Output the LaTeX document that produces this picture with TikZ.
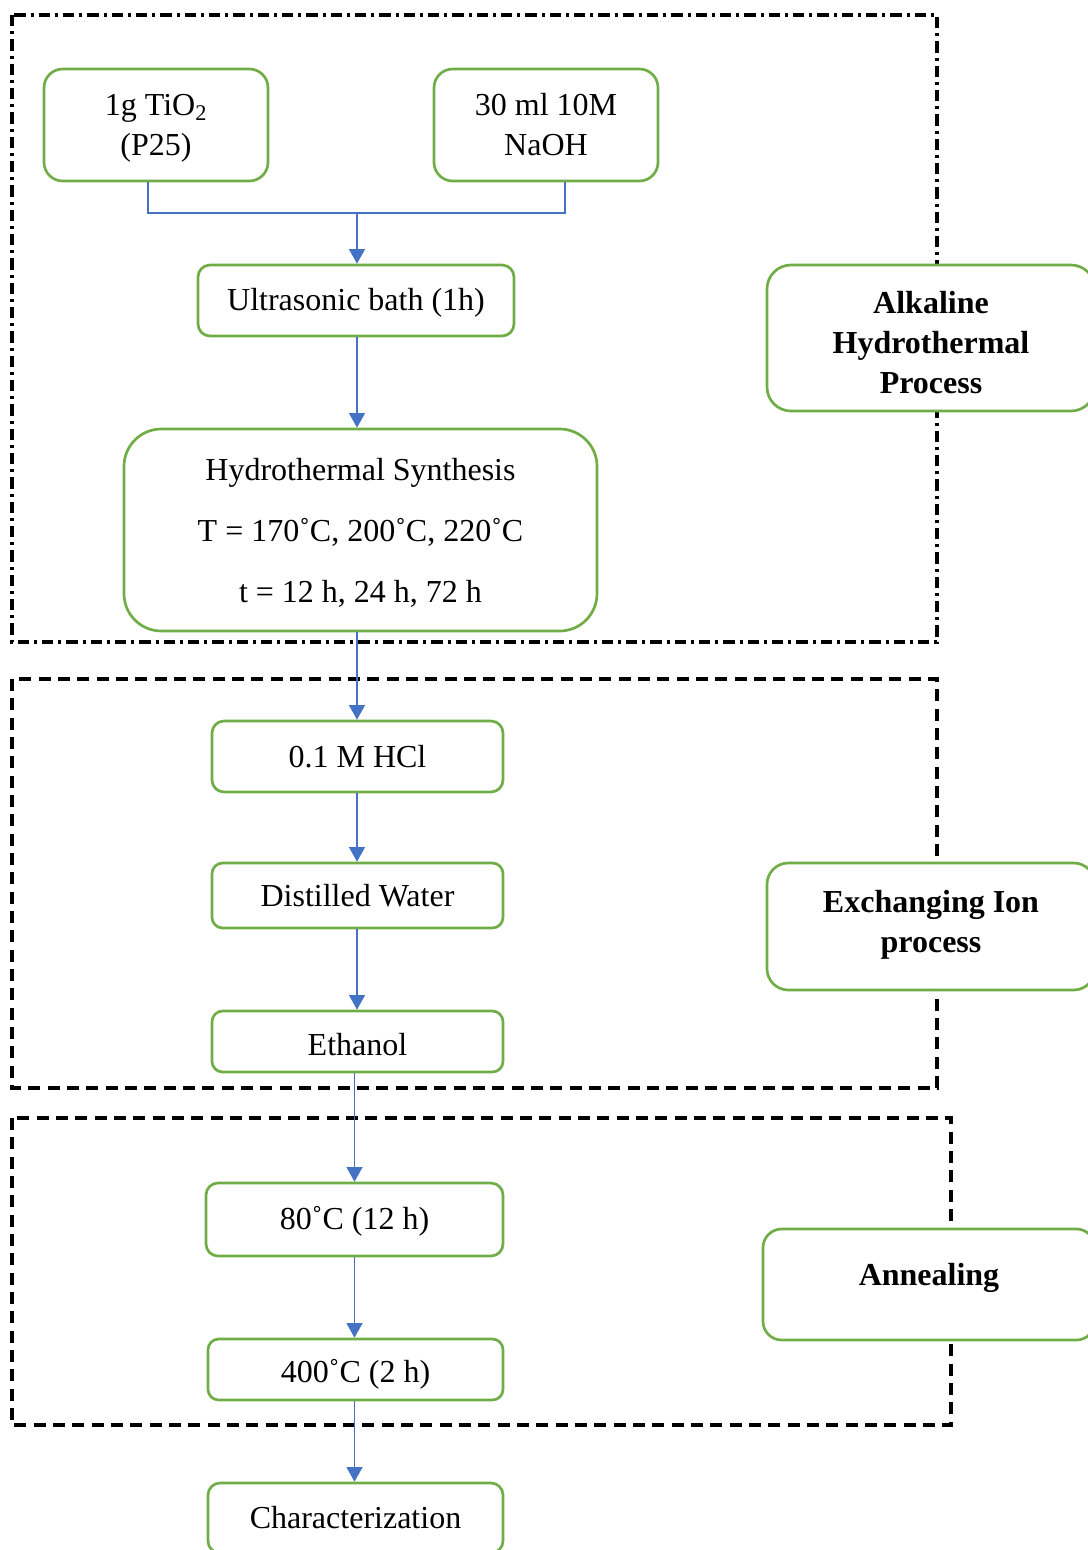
\documentclass[tikz,border=0pt]{standalone}
\usepackage{fontspec}
\setmainfont{Liberation Serif}
\usetikzlibrary{arrows.meta}
\definecolor{gr}{HTML}{70AD47}
\definecolor{bl}{HTML}{4472C4}
\newcommand\tx[2]{\raisebox{#1}[\height][\depth]{\begin{tabular}{@{}c@{}}#2\end{tabular}}}
\begin{document}
\begin{tikzpicture}[x=0.75pt,y=-0.75pt,
  box/.style={draw=gr, line width=2pt, fill=white, align=center, inner sep=0pt, font=\fontsize{24}{30}\selectfont},
  lab/.style={box, font=\fontsize{24}{30}\selectfont\bfseries},
  conn/.style={draw=bl, line width=1.1pt},
  arr/.style={conn, -{Triangle[width=12pt,length=11pt]}},
  grpd/.style={line width=2.3pt, dash pattern=on 9pt off 5.5pt},
  grpdd/.style={line width=2.3pt, dash pattern=on 8.5pt off 3.75pt on 2.25pt off 3.75pt}]
\useasboundingbox (0,0) rectangle (1088,1550);
\clip (0,0) rectangle (1088,1550);
\fill[white] (0,0) rectangle (1088,1550);

% group frames
\draw[grpdd] (12,15) rectangle (937,642);
\draw[grpd] (12,679) rectangle (937,1088);
\draw[grpd] (12,1118) rectangle (951,1425);

% process boxes
\node[box, minimum width=168pt, minimum height=84pt, rounded corners=14pt] (tio) at (156,125) {\tx{-2pt}{1g TiO\textsubscript{2}\\(P25)}};
\node[box, minimum width=168pt, minimum height=84pt, rounded corners=14pt] (naoh) at (546,125) {\tx{-2.2pt}{30 ml 10M\\NaOH}};
\node[box, minimum width=237pt, minimum height=53.25pt, rounded corners=9pt] (us) at (356,300.5) {\tx{-1.4pt}{Ultrasonic bath (1h)}};
\node[box, minimum width=354.75pt, minimum height=151.5pt, rounded corners=28pt] (hs) at (360.5,530) {\tx{-2.7pt}{Hydrothermal Synthesis\\[15.75pt]T = 170˚C, 200˚C, 220˚C\\[15.75pt]t = 12 h, 24 h, 72 h}};
\node[box, minimum width=218.25pt, minimum height=53.25pt, rounded corners=9pt] (hcl) at (357.5,756.5) {\tx{-2.2pt}{0.1 M HCl}};
\node[box, minimum width=218.25pt, minimum height=48.75pt, rounded corners=8pt] (dw) at (357.5,895.5) {\tx{-2.2pt}{Distilled Water}};
\node[box, minimum width=218.25pt, minimum height=45.75pt, rounded corners=8pt] (eth) at (357.5,1041.5) {\tx{-4.4pt}{Ethanol}};
\node[box, minimum width=222.75pt, minimum height=54.75pt, rounded corners=9pt] (c80) at (354.5,1219.5) {\tx{-1.4pt}{80˚C (12 h)}};
\node[box, minimum width=221.25pt, minimum height=45.75pt, rounded corners=8pt] (c400) at (355.5,1369.5) {\tx{-3.6pt}{400˚C (2 h)}};
\node[box, minimum width=221.25pt, minimum height=52.5pt, rounded corners=9pt] (chr) at (355.5,1518) {\tx{-2.2pt}{Characterization}};

% stage labels
\node[lab, minimum width=246pt, minimum height=109.5pt, rounded corners=18pt] (alk) at (931,338) {\tx{-5.8pt}{Alkaline\\Hydrothermal\\Process}};
\node[lab, minimum width=246pt, minimum height=95.25pt, rounded corners=16pt] (exc) at (931,926.5) {\tx{1.8pt}{Exchanging Ion\\process}};
\node[lab, minimum width=249pt, minimum height=83.25pt, rounded corners=14pt] (ann) at (929,1284.5) {\tx{5.6pt}{Annealing}};

% connectors
\coordinate (j) at (357,213);
\draw[conn] ([xshift=-6pt]tio.south) |- (j);
\draw[conn] ([xshift=14.25pt]naoh.south) |- (j);
\draw[arr] (j) -- (j |- us.north);
\draw[arr] (us.south -| j) -- (j |- hs.north);
\draw[arr] (hs.south -| j) -- (j |- hcl.north);
\draw[arr] (hcl.south -| j) -- (j |- dw.north);
\draw[arr] (dw.south -| j) -- (j |- eth.north);
\draw[arr] (eth.south -| c80.north) -- (c80.north);
\draw[arr] (c80.south) -- (c80.south |- c400.north);
\draw[arr] (c400.south -| c80.south) -- (c80.south |- chr.north);
\end{tikzpicture}
\end{document}
